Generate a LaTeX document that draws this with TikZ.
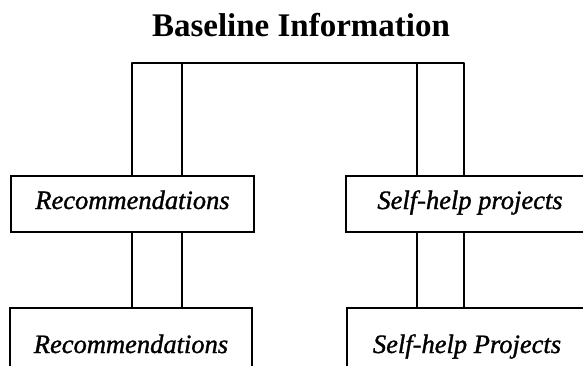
\documentclass[tikz,border=0pt]{standalone}
\usepackage{fontspec}
\setmainfont{Liberation Serif}
\newfontfamily\boxfont[ItalicFeatures={FakeBold=1.2}]{Liberation Serif}
\begin{document}
\begin{tikzpicture}[x=1pt,y=1pt,
  ln/.style={line width=1.4pt},
  boxtop/.style={draw,line width=1.4pt,inner sep=0pt,minimum height=56pt,
     text height=18pt,text depth=8pt,font=\boxfont\fontsize{26.5}{30}\selectfont\itshape},
  boxbot/.style={draw,line width=1.4pt,inner sep=0pt,minimum height=72pt,
     text height=24pt,text depth=6pt,font=\boxfont\fontsize{26.5}{30}\selectfont\itshape},
  ttl/.style={font=\fontsize{33}{36}\selectfont\bfseries,inner sep=0pt,anchor=base}]
\useasboundingbox (0,0) rectangle (583,365);
\clip (0,0) rectangle (583,365);
\fill[white] (0,0) rectangle (583,365);
\node[ttl] (title) at (301,328) {Baseline Information};
\node[boxtop,minimum width=243pt] (lt) at (132.5,161) {Recommendations};
\node[boxtop,minimum width=248pt] (rt) at (470,161) {Self-help projects};
\node[boxbot,minimum width=242pt] (lb) at (131,21) {Recommendations};
\node[boxbot,minimum width=240pt] (rb) at (467,21) {Self-help Projects};
\coordinate (tl) at (132,302);
\coordinate (tr) at (464,302);
\coordinate (c1) at (182,302);
\coordinate (c2) at (417,302);
\draw[ln,line join=round] (lt.north -| tl) -- (tl) -- (tr) -- (rt.north -| tr);
\draw[ln] (lt.north -| c1) -- (c1);
\draw[ln] (rt.north -| c2) -- (c2);
\draw[ln] (lt.south -| tl) -- (lb.north -| tl);
\draw[ln] (lt.south -| c1) -- (lb.north -| c1);
\draw[ln] (rt.south -| c2) -- (rb.north -| c2);
\draw[ln] (rt.south -| tr) -- (rb.north -| tr);
\end{tikzpicture}
\end{document}
